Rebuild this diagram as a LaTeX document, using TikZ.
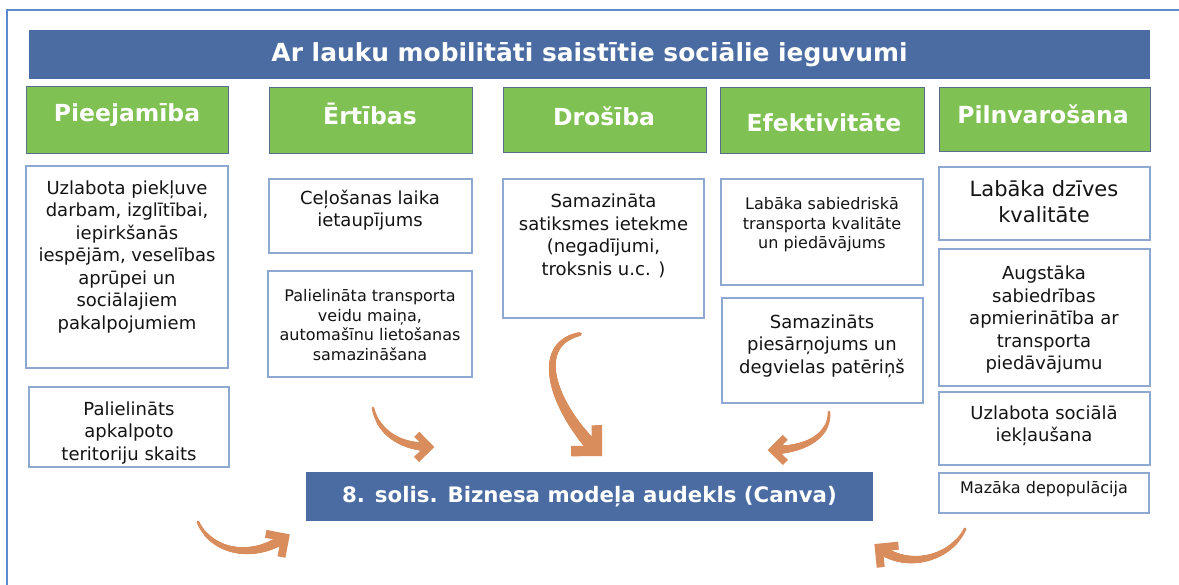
\documentclass[tikz,border=0pt]{standalone}
\usepackage{fontspec}
\setmainfont{DejaVu Sans}
\usetikzlibrary{decorations.markings}
\definecolor{frameblue}{RGB}{91,137,205}
\definecolor{barblue}{RGB}{74,108,162}
\definecolor{hdrgreen}{RGB}{127,193,82}
\definecolor{hdrborder}{RGB}{88,110,140}
\definecolor{boxborder}{RGB}{143,168,210}
\definecolor{arroworange}{RGB}{218,141,92}
\definecolor{txt}{RGB}{20,20,20}
\tikzset{
  bar/.style={fill=barblue, draw=none, text=white, inner sep=0pt,
    font=\bfseries\fontsize{24.9}{28}\selectfont},
  hdr/.style={draw=hdrborder, line width=0.8pt, fill=hdrgreen, inner sep=0pt},
  hdrtext/.style={text=white, anchor=base, inner sep=0pt,
    font=\bfseries\fontsize{23.5}{28}\selectfont},
  wbox/.style={draw=boxborder, line width=1.3pt, fill=white, inner sep=0pt},
  wtext/.style={text=txt, align=center, inner sep=0pt,
    font=\fontsize{18}{22.5}\selectfont},
  stext/.style={wtext, font=\fontsize{16}{19.5}\selectfont},
  brush/.style={
    postaction={decorate, decoration={markings,
      mark=between positions 0 and 0.955 step 0.6pt with {
        \pgfmathsetmacro\brushr{#1*(0.3+0.7*\pgfkeysvalueof{/pgf/decoration/mark info/distance from start}/\pgfdecoratedpathlength)}
        \fill[arroworange] (0,0) circle (\brushr pt);}}},
    postaction={decorate, decoration={markings,
      mark=at position 0.99 with {
        \draw[arroworange, line width=1.6*#1, line join=miter, line cap=butt]
          (-2.8*#1,2.8*#1) -- (0,0) -- (-2.8*#1,-2.8*#1);}}}}
}
\begin{document}
\begin{tikzpicture}[x=1pt,y=-1pt]
\path[use as bounding box, fill=white] (0,0) rectangle (1179,585);
% outer frame
\coordinate (fbl) at (7,585);
\coordinate (ftl) at (7,10);
\coordinate (ftr) at (1179,10);
\draw[frameblue, line width=2pt] (fbl) -- (ftl) -- (ftr);

% title bar
\node[bar, minimum width=1121, minimum height=49] (title) at (589.5,54.5)
  {Ar lauku mobilitāti saistītie sociālie ieguvumi};

% green headers
\node[hdr, minimum width=202, minimum height=67] (h1) at (127,119.5) {};
\node[hdr, minimum width=203, minimum height=66] (h2) at (370.5,120) {};
\node[hdr, minimum width=203, minimum height=65] (h3) at (604.5,119.5) {};
\node[hdr, minimum width=204, minimum height=66] (h4) at (822,120) {};
\node[hdr, minimum width=211, minimum height=64] (h5) at (1044.5,119) {};
\node[hdrtext] (h1t) at (127,122) {Pieejamība};
\node[hdrtext] (h2t) at (370,125) {Ērtības};
\node[hdrtext] (h3t) at (604,126) {Drošība};
\node[hdrtext] (h4t) at (824,132) {Efektivitāte};
\node[hdrtext] (h5t) at (1043,124) {Pilnvarošana};

% white boxes
\node[wbox, minimum width=202, minimum height=202] (c1a) at (127,267) {};
\node[wbox, minimum width=200, minimum height=80] (c1b) at (129,427) {};
\node[wbox, minimum width=203, minimum height=74] (c2a) at (370.5,216) {};
\node[wbox, minimum width=204, minimum height=106] (c2b) at (370,324) {};
\node[wbox, minimum width=201, minimum height=139] (c3a) at (603.5,248.5) {};
\node[wbox, minimum width=202, minimum height=106] (c4a) at (822,232) {};
\node[wbox, minimum width=201, minimum height=105] (c4b) at (822.5,350.5) {};
\node[wbox, minimum width=211, minimum height=73] (c5a) at (1044.5,203.5) {};
\node[wbox, minimum width=211, minimum height=137] (c5b) at (1044.5,317.5) {};
\node[wbox, minimum width=211, minimum height=73] (c5c) at (1044.5,428.5) {};
\node[wbox, minimum width=210, minimum height=40] (c5d) at (1044,493) {};

% texts
\node[wtext] (c1at) at (127,257) {Uzlabota piekļuve\\darbam, izglītībai,\\iepirkšanās\\iespējām, veselības\\aprūpei un\\sociālajiem\\pakalpojumiem};
\node[wtext] (c1bt) at (129,433) {Palielināts\\apkalpoto\\teritoriju skaits};
\node[wtext] (c2at) at (370,210) {Ceļošanas laika\\ietaupījums};
\node[stext] (c2bt) at (370,325) {Palielināta transporta\\veidu maiņa,\\automašīnu lietošanas\\samazināšana};
\node[wtext] (c3at) at (603.5,236) {Samazināta\\satiksmes ietekme\\(negadījumi,\\troksnis u.c. )};
\node[stext] (c4at) at (822,225) {Labāka sabiedriskā\\transporta kvalitāte\\un piedāvājums};
\node[wtext] (c4bt) at (822,346) {Samazināts\\piesārņojums un\\degvielas patēriņš};
\node[wtext, font=\fontsize{21}{26}\selectfont] (c5at) at (1044,202) {Labāka dzīves\\kvalitāte};
\node[wtext] (c5bt) at (1044,320) {Augstāka\\sabiedrības\\apmierinātība ar\\transporta\\piedāvājumu};
\node[wtext] (c5ct) at (1044,426) {Uzlabota sociālā\\iekļaušana};
\node[stext] (c5dt) at (1044,489) {Mazāka depopulācija};

% bottom bar
\node[bar, font=\bfseries\fontsize{21.3}{25}\selectfont, minimum width=567, minimum height=49] (canva) at (589.5,496.5)
  {8. solis. Biznesa modeļa audekls (Canva)};

% brush arrows
\coordinate (a1s) at (198,522); \coordinate (a1e) at (286,537);
\path[brush=5] (a1s) .. controls (210,550) and (250,562) .. (a1e);
\coordinate (a2s) at (373,408); \coordinate (a2e) at (430,447);
\path[brush=4.5] (a2s) .. controls (378,432) and (400,447) .. (a2e);
\coordinate (a3s) at (580,334); \coordinate (a3e) at (598,452);
\path[brush=6.5] (a3s) .. controls (530,345) and (555,410) .. (a3e);
\coordinate (a4s) at (829,412); \coordinate (a4e) at (772,450);
\path[brush=4.5] (a4s) .. controls (830,436) and (805,450) .. (a4e);
\coordinate (a5s) at (965,529); \coordinate (a5e) at (878,547);
\path[brush=5] (a5s) .. controls (950,560) and (905,570) .. (a5e);
\end{tikzpicture}
\end{document}
